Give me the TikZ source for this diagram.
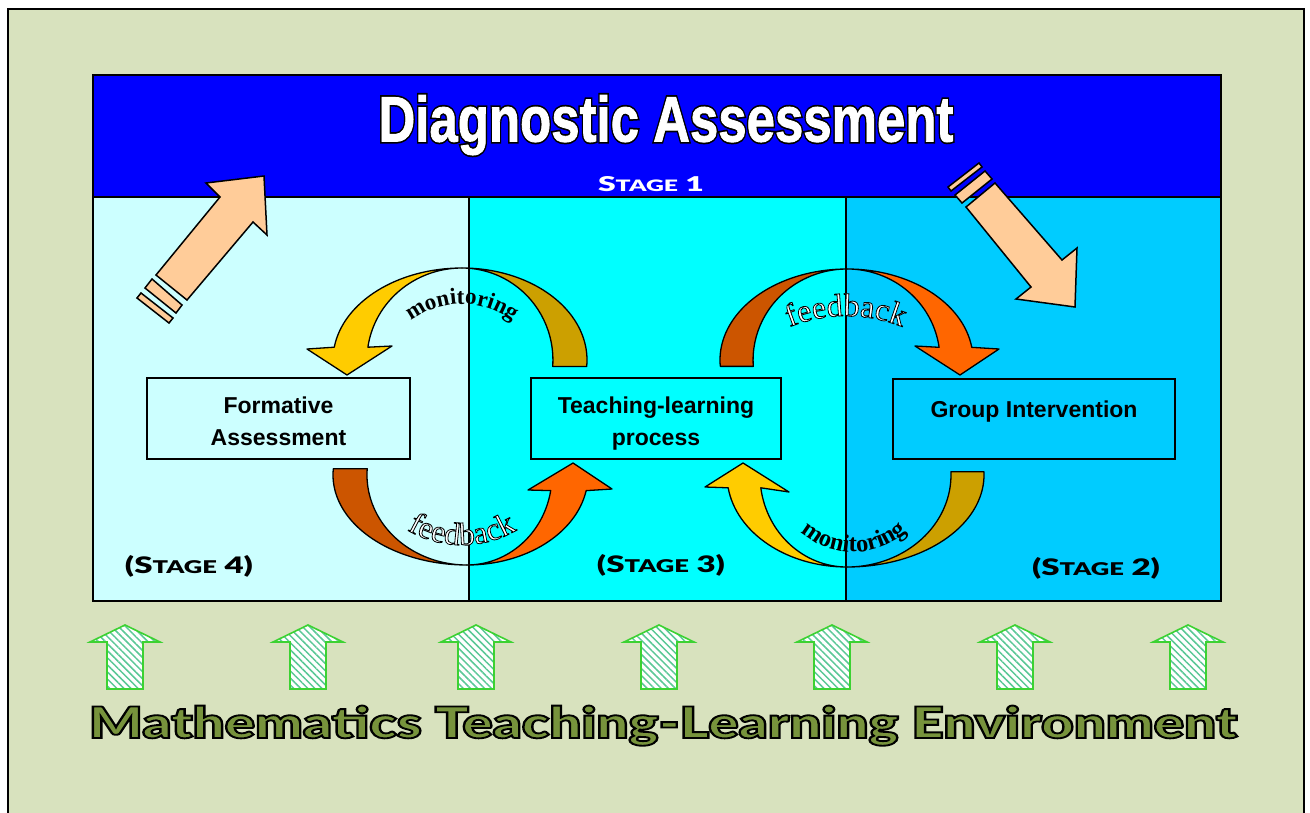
\documentclass[tikz,border=0pt]{standalone}
\usepackage{fontspec}
\setmainfont{Liberation Sans}
\newfontfamily\serifft{Liberation Serif}
\IfFontExistsTF{Lato Black}{\newfontfamily\blackfont{Lato Black}}{%
  \IfFontExistsTF{Fira Sans Black}{\newfontfamily\blackfont{Fira Sans Black}}{%
    \newfontfamily\blackfont{Liberation Sans Bold}}}
\usetikzlibrary{patterns.meta,decorations.text}
\definecolor{bgolive}{RGB}{216,226,190}
\definecolor{bandblue}{RGB}{0,0,255}
\definecolor{panelA}{RGB}{204,255,255}
\definecolor{panelB}{RGB}{0,255,255}
\definecolor{panelC}{RGB}{0,204,255}
\definecolor{peach}{RGB}{255,204,153}
\definecolor{gold}{RGB}{255,204,0}
\definecolor{darkgold}{RGB}{204,160,0}
\definecolor{orangeA}{RGB}{255,102,0}
\definecolor{darkorange}{RGB}{204,85,0}
\definecolor{arrowgreen}{RGB}{60,210,50}
\definecolor{hatchgreen}{RGB}{90,200,150}
\definecolor{olivetext}{RGB}{119,147,60}
\newcommand\outl[2]{\special{pdf:literal direct 2 Tr #1 w 0 0 0 RG}#2\special{pdf:literal direct 0 Tr}}
\newcommand\whitebold[2]{\special{pdf:literal direct 2 Tr #1 w 1 1 1 RG 1 1 1 rg}#2\special{pdf:literal direct 0 Tr}}
\newcommand\hollowon{\special{pdf:literal direct 2 Tr 0.8 w 0 0 0 RG 1 1 1 rg}}
\newcommand\stagetxt[3]{\resizebox{#1}{#2}{\blackfont(S{\fontsize{17}{17}\selectfont TAGE} #3)}}
\newcommand\titletxt{Diagnostic Assessment}
\newcommand\twolines[2]{\raisebox{-5pt}[\height][\depth]{\begin{tabular}{@{}c@{}}#1\\#2\end{tabular}}}
\begin{document}
\begin{tikzpicture}[x=1pt,y=-1pt,
  panel/.style={draw=black, line width=1.2, inner sep=0, minimum height=404},
  box/.style={draw=black, line width=1.2, inner sep=0, minimum height=81, align=center, font=\bfseries\fontsize{23}{32}\selectfont},
  curv/.style={draw=black, line width=1.3, line join=round},
  peacharrow/.style={draw=black, fill=peach, line width=1.5, line join=miter},
  greenarrow/.style={draw=arrowgreen, line width=1.6, preaction={fill=white}, pattern={Lines[angle=-45,distance=5pt,line width=1.5pt]}, pattern color=hatchgreen},
  stagelbl/.style={anchor=base, inner sep=0, font=\fontsize{22}{22}\selectfont},
  arctext/.style={decorate, decoration={text along path, text align=center}}
]
\useasboundingbox (0,0) rectangle (1310,812);
\fill[white] (0,0) rectangle (1310,812);
\draw[line width=1.5, fill=bgolive] (8,9) rectangle (1304,830);

% panels
\node[panel, fill=panelA, minimum width=376] (p4) at (281,399) {};
\node[panel, fill=panelB, minimum width=377] (p3) at (657.5,399) {};
\node[panel, fill=panelC, minimum width=375] (p2) at (1033.5,399) {};
\node[draw=black, line width=1.5, fill=bandblue, inner sep=0, minimum width=1128, minimum height=122] (band) at (657,136) {};
\draw[line width=1.8] (93,75) rectangle (1221,601);

% title
\node[anchor=base, inner sep=0, font=\bfseries\fontsize{50}{50}\selectfont] (title) at (666,141.5) {\resizebox{575pt}{46.5pt}{\rlap{\color{black}\outl{3.4}{\titletxt}}\color{white}\whitebold{0.7}{\titletxt}}};
\node[stagelbl, text=white] (s1) at (651,191) {\resizebox{106pt}{15pt}{\blackfont S{\fontsize{17}{17}\selectfont TAGE} 1}};

% stage labels
\node[stagelbl] (s4) at (189,573) {\stagetxt{128pt}{18pt}{4}};
\node[stagelbl] (s3) at (661,572) {\stagetxt{128pt}{18pt}{3}};
\node[stagelbl] (s2) at (1096,575) {\stagetxt{128pt}{18pt}{2}};

% boxes
\node[box, fill=panelA, minimum width=263] (fa) at (278.5,418.5) {\twolines{Formative}{Assessment}};
\node[box, fill=panelB, minimum width=250] (tl) at (656,418.5) {\twolines{Teaching-learning}{process}};
\node[box, fill=panelC, minimum width=282, minimum height=80] (gi) at (1034,419) {\raisebox{20pt}{Group Intervention}};

% peach arrows
\draw[peacharrow] (156,275) -- (220,197) -- (206,183) -- (264,176) -- (267,235) -- (253,222) -- (187,300) -- cycle;
\draw[peacharrow] (152,279) -- (182,305) -- (176,313) -- (145,288) -- cycle;
\draw[peacharrow] (141,293) -- (173,318) -- (169,323) -- (137,298) -- cycle;
\draw[peacharrow] (966,207) -- (1031,287) -- (1016,299) -- (1075,307) -- (1077,248) -- (1062,260) -- (995,183) -- cycle;
\draw[peacharrow] (955,195) -- (985,171) -- (992,179) -- (962,203) -- cycle;
\draw[peacharrow] (948,187) -- (979,163) -- (982,167) -- (951,191) -- cycle;

% top-left curved arrow (monitoring)
\filldraw[curv, fill=darkgold] (462,268) arc[start angle=270, end angle=364, x radius=125, y radius=92] -- ++(-34,0) arc[start angle=364, end angle=270, x radius=91, y radius=92] -- cycle;
\filldraw[curv, fill=gold] (462,268) arc[start angle=270, end angle=188, x radius=129, y radius=92] -- (307,349) -- (347,375) -- (392,346) -- (367.9,347.2) arc[start angle=188, end angle=270, x radius=95, y radius=92] -- cycle;

% top-right curved arrow (feedback)
\filldraw[curv, fill=darkorange] (847,269) arc[start angle=270, end angle=176, x radius=127, y radius=91] -- ++(33,0) arc[start angle=176, end angle=270, x radius=94, y radius=91] -- cycle;
\filldraw[curv, fill=orangeA] (847,269) arc[start angle=270, end angle=352, x radius=126, y radius=91] -- (999,349) -- (960,375) -- (915,346) -- (939.1,347.3) arc[start angle=352, end angle=270, x radius=93, y radius=91] -- cycle;

% bottom-left curved arrow (feedback)
\filldraw[curv, fill=darkorange] (467,565) arc[start angle=90, end angle=184, x radius=134, y radius=90] -- ++(33.9,0) arc[start angle=184, end angle=90, x radius=100, y radius=90] -- cycle;
\filldraw[curv, fill=orangeA] (467,565) arc[start angle=90, end angle=10, x radius=121, y radius=90] -- (612,489) -- (573,463) -- (528,490) -- (550.7,490.6) arc[start angle=10, end angle=90, x radius=85, y radius=90] -- cycle;

% bottom-right curved arrow (monitoring)
\filldraw[curv, fill=darkgold] (847,567) arc[start angle=90, end angle=-2, x radius=137, y radius=92] -- ++(-33,0) arc[start angle=-2, end angle=90, x radius=104, y radius=92] -- cycle;
\filldraw[curv, fill=gold] (847,567) arc[start angle=90, end angle=172, x radius=120, y radius=92] -- (705,487) -- (743,463) -- (789,492) -- (760.8,487.8) arc[start angle=172, end angle=90, x radius=87, y radius=92] -- cycle;

% arc texts
\path[arctext, decoration={text={|\serifft\bfseries\fontsize{23}{23}\selectfont|monitoring}}] (462,388) ++(200:84) arc[start angle=200, end angle=340, radius=84];
\path[arctext, decoration={text={|\serifft\bfseries\fontsize{24.5}{24.5}\selectfont|monitoring}}] (854,472) ++(160:80) arc[start angle=160, end angle=20, radius=80];
\path[arctext, decoration={text={|\serifft\fontsize{32}{32}\selectfont\hollowon|feedback}}] (846,466) ++(240:150) arc[start angle=240, end angle=300, radius=150];
\path[arctext, decoration={text={|\serifft\fontsize{32}{32}\selectfont\hollowon|feedback}}] (462,437) ++(150:108) arc[start angle=150, end angle=30, radius=108];

% green arrows
\foreach \gx in {125,308,476,659,832,1015,1188} {
  \draw[greenarrow] (\gx,625) -- (\gx+35,642) -- (\gx+18,642) -- (\gx+18,689) -- (\gx-18,689) -- (\gx-18,642) -- (\gx-35,642) -- cycle;
}

% bottom text
\node[anchor=base, inner sep=0, text=olivetext, font=\blackfont\fontsize{47}{47}\selectfont] (env) at (663,738) {\outl{2}{\resizebox{1148pt}{32.5pt}{Mathematics Teaching-Learning Environment}}};
\end{tikzpicture}
\end{document}
